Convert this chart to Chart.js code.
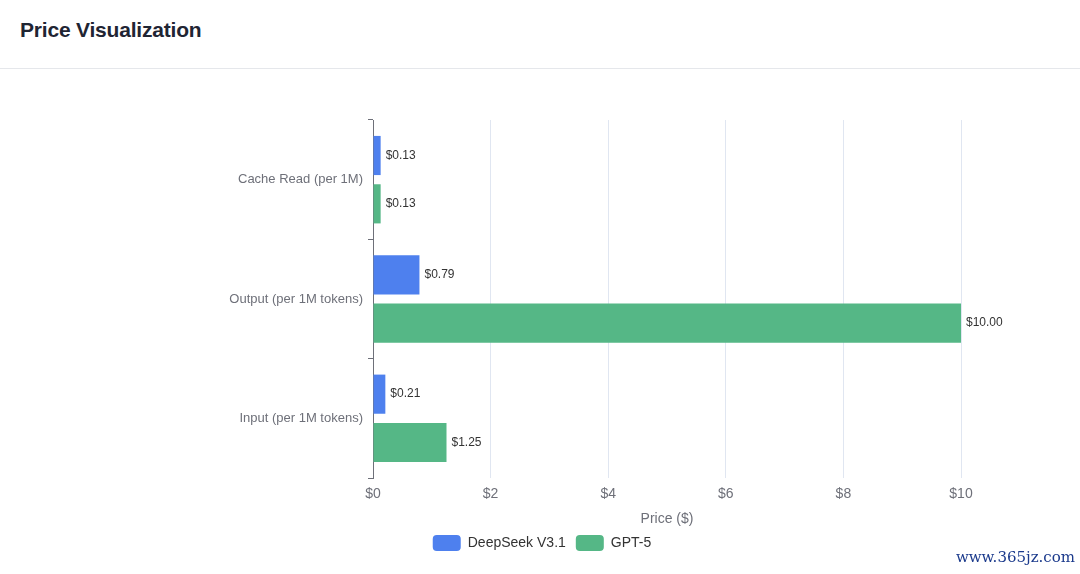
<!DOCTYPE html>
<html>
<head>
<meta charset="utf-8">
<script src="https://cdn.jsdelivr.net/npm/chart.js@4"></script>
<style>
  html, body { margin:0; padding:0; background:#fff; }
  body { width:1080px; height:574px; position:relative; overflow:hidden; font-family:"Liberation Sans", Arial, sans-serif; }
  .head { position:absolute; left:0; top:0; width:1080px; height:68px; border-bottom:1px solid #e5e7eb; }
  .head h2 { margin:0; position:absolute; left:20px; top:18px; font-size:21px; font-weight:700; color:#1f2533; letter-spacing:-0.2px; }
  .wrap { position:absolute; left:0; top:70px; width:1080px; height:504px; }
  .mark { position:absolute; right:5px; top:548px; font-family:"DejaVu Serif", "Liberation Serif", serif; font-size:15px; color:#1b3a8c; }
</style>
</head>
<body>
<div class="head"><h2>Price Visualization</h2></div>
<div class="wrap"><canvas id="priceChart"></canvas></div>
<div class="mark">www.365jz.com</div>
<script>
// price per 1M tokens, categories listed top to bottom
const categories = ['Cache Read (per 1M)', 'Output (per 1M tokens)', 'Input (per 1M tokens)'];
const deepseekPrices = [0.13, 0.79, 0.21];
const gpt5Prices     = [0.13, 10.00, 1.25];
const seriesNames = ['DeepSeek V3.1', 'GPT-5'];
const xTicks = [0, 2, 4, 6, 8, 10];

const BLUE = '#4e80ee', GREEN = '#55b786';
const AXIS = '#6e7079';

// draws "$x.xx" to the right of every bar
const barLabels = {
  id: 'barLabels',
  afterDatasetsDraw(chart){
    const ctx = chart.ctx;
    ctx.save();
    ctx.font = '12px "Liberation Sans", Arial, sans-serif';
    ctx.fillStyle = '#333';
    ctx.textAlign = 'left';
    ctx.textBaseline = 'middle';
    chart.data.datasets.forEach((ds, i)=>{
      const meta = chart.getDatasetMeta(i);
      meta.data.forEach((bar, j)=>{
        ctx.fillText('$' + ds.data[j].toFixed(2), bar.x + 5, bar.y);
      });
    });
    ctx.restore();
  }
};

Chart.defaults.font.family = '"Liberation Sans", Arial, sans-serif';

new Chart(document.getElementById('priceChart'), {
  type: 'bar',
  data: {
    labels: categories,
    datasets: [
      { label: seriesNames[0], data: deepseekPrices, backgroundColor: BLUE },
      { label: seriesNames[1], data: gpt5Prices, backgroundColor: GREEN }
    ]
  },
  options: {
    indexAxis: 'y',
    responsive: true,
    maintainAspectRatio: false,
    animation: false,
    categoryPercentage: 0.81,
    barPercentage: 0.81,
    layout: { padding: { top: 50, right: 119, bottom: 13, left: 123 } },
    plugins: {
      tooltip: { enabled: false },
      legend: {
        position: 'bottom',
        labels: {
          boxWidth: 28, boxHeight: 16, padding: 10,
          useBorderRadius: true, borderRadius: 4,
          color: '#333', font: { size: 14 }
        }
      }
    },
    scales: {
      x: {
        min: 0, max: 10,
        afterBuildTicks: s => { s.ticks = xTicks.map(v => ({ value: v })); },
        grid: { color: '#e0e6f1', drawTicks: false },
        border: { display: false },
        ticks: { color: AXIS, font: { size: 14 }, padding: 8, callback: v => '$' + v },
        title: { display: true, text: 'Price ($)', color: AXIS, font: { size: 14 }, padding: { top: 8, bottom: -3 } },
        afterFit: s => { s.height = 47; }
      },
      y: {
        grid: { drawOnChartArea: false, offset: true, color: AXIS, tickLength: 5 },
        border: { display: true, color: AXIS },
        ticks: { color: AXIS, font: { size: 13 }, padding: 5 },
        afterFit: s => { s.width = 250; }
      }
    }
  },
  plugins: [barLabels]
});
</script>
</body>
</html>
